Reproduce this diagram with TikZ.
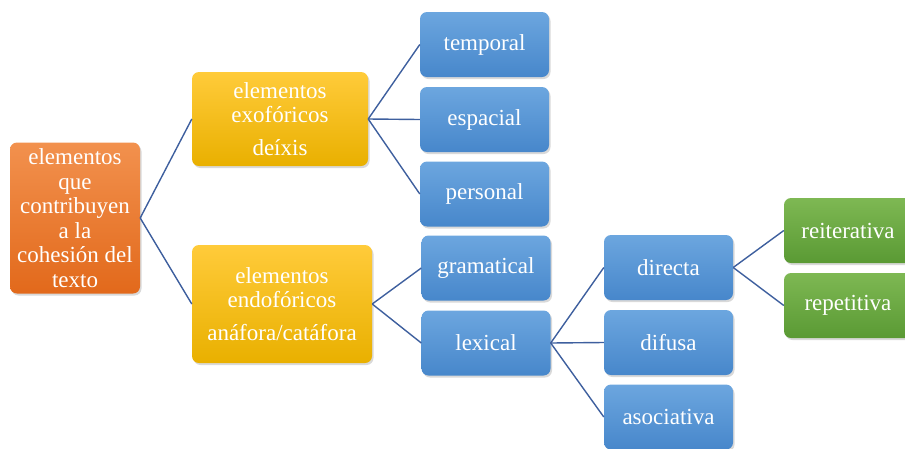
\documentclass[tikz,border=0pt]{standalone}
\usepackage{fontspec}
\setmainfont{Liberation Serif}
\usetikzlibrary{shadows}
\definecolor{orT}{HTML}{F2914E}
\definecolor{orB}{HTML}{E2691B}
\definecolor{yeT}{HTML}{FFCB3A}
\definecolor{yeB}{HTML}{E9B000}
\definecolor{blT}{HTML}{6CA6DF}
\definecolor{blB}{HTML}{4787CB}
\definecolor{grT}{HTML}{7EB853}
\definecolor{grB}{HTML}{5A9A34}
\definecolor{lnC}{HTML}{3E5F9E}
\tikzset{
  box/.style={rounded corners=7pt, text=white, align=center, inner sep=1pt,
    font=\fontsize{23}{24.5}\selectfont,
    drop shadow={opacity=0.3, shadow xshift=1.5pt, shadow yshift=-2pt}},
  orbox/.style={box, top color=orT, bottom color=orB},
  yebox/.style={box, top color=yeT, bottom color=yeB},
  blbox/.style={box, top color=blT, bottom color=blB, minimum width=129pt, minimum height=65pt},
  grbox/.style={box, top color=grT, bottom color=grB, minimum width=128pt, minimum height=65pt},
  conn/.style={draw=lnC, line width=1.4pt}
}
\begin{document}
\begin{tikzpicture}[x=1pt,y=-1pt]
\useasboundingbox (0,0) rectangle (905,448);
\node[orbox, minimum width=130pt, minimum height=151pt] (root) at (75,218) {elementos\\que\\contribuyen\\a la\\cohesión del\\texto};
\node[yebox, minimum width=176pt, minimum height=94pt] (exo) at (280,119) {elementos\\exofóricos\\[8pt]deíxis};
\node[yebox, minimum width=180pt, minimum height=118pt] (endo) at (282,304) {elementos\\endofóricos\\[8pt]anáfora/catáfora};
\node[blbox] (temp) at (484.5,44.5) {temporal};
\node[blbox] (esp) at (484.5,119.5) {espacial};
\node[blbox] (pers) at (484.5,194) {personal};
\node[blbox] (gram) at (486,268) {gramatical};
\node[blbox] (lex) at (486,343) {lexical};
\node[blbox] (dir) at (668.5,267.5) {directa};
\node[blbox] (dif) at (668.5,342.5) {difusa};
\node[blbox] (aso) at (668.5,417) {asociativa};
\node[grbox] (rei) at (848,230.5) {reiterativa};
\node[grbox] (rep) at (848,305.5) {repetitiva};
\draw[conn] (root.east) -- (exo.west);
\draw[conn] (root.east) -- (endo.west);
\draw[conn] (exo.east) -- (temp.west);
\draw[conn] (exo.east) -- (esp.west);
\draw[conn] (exo.east) -- (pers.west);
\draw[conn] (endo.east) -- (gram.west);
\draw[conn] (endo.east) -- (lex.west);
\draw[conn] (lex.east) -- (dir.west);
\draw[conn] (lex.east) -- (dif.west);
\draw[conn] (lex.east) -- (aso.west);
\draw[conn] (dir.east) -- (rei.west);
\draw[conn] (dir.east) -- (rep.west);
\end{tikzpicture}
\end{document}
